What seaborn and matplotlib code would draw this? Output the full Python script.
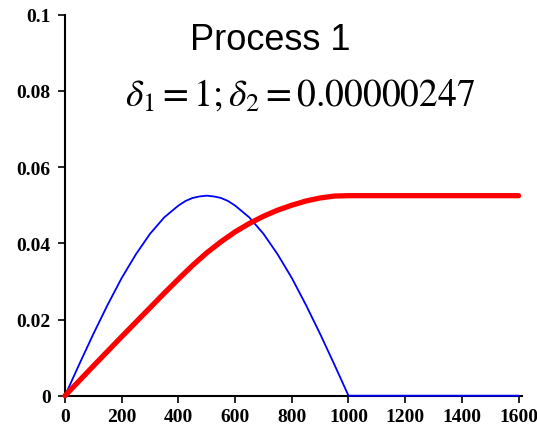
import pandas as pd
import matplotlib.pyplot as plt
import seaborn as sns

sns.set_style("ticks")
plt.rcParams['font.family'] = ['Liberation Serif', 'DejaVu Serif']
plt.rcParams['mathtext.fontset'] = 'stix'

# blue curve
x_blue = [0, 50, 100, 150, 200, 250, 300, 350, 400, 425, 450, 475, 500,
          525, 550, 575, 600, 650, 700, 750, 800, 850, 900, 950, 1000, 1200, 1400, 1600]
y_blue = [0, 0.0082, 0.0162, 0.0238, 0.0309, 0.0371, 0.0425, 0.0468, 0.0499, 0.0511, 0.0519, 0.0523, 0.0525,
          0.0523, 0.0519, 0.0511, 0.0499, 0.0468, 0.0425, 0.0371, 0.0309, 0.0238, 0.0162, 0.0082, 0, 0, 0, 0]

# red curve
x_red = [0, 100, 200, 300, 350, 400, 450, 500, 550, 600, 650, 700, 750, 800, 850, 900, 950,
         1000, 1200, 1400, 1600]
y_red = [0, 0.0078, 0.0155, 0.0231, 0.0269, 0.0306, 0.0342, 0.0375, 0.0404, 0.0430, 0.0452,
         0.0471, 0.0487, 0.0500, 0.0511, 0.0519, 0.0524, 0.0525, 0.0525, 0.0525, 0.0525]

x_ticks = [0, 200, 400, 600, 800, 1000, 1200, 1400, 1600]
y_ticks = [0, 0.02, 0.04, 0.06, 0.08, 0.1]
y_tick_labels = ["0", "0.02", "0.04", "0.06", "0.08", "0.1"]

W, H = 537, 435
fig = plt.figure(figsize=(W / 100, H / 100), dpi=100)
ax = fig.add_axes([65 / W, 38.3 / H, 457 / W, 381 / H])

df_red = pd.DataFrame({"x": x_red, "y": y_red})
df_blue = pd.DataFrame({"x": x_blue, "y": y_blue})
sns.lineplot(data=df_blue, x="x", y="y", ax=ax, color="#0000ff", linewidth=1.3,
             clip_on=False, zorder=3)
sns.lineplot(data=df_red, x="x", y="y", ax=ax, color="#ff0000", linewidth=3.8,
             clip_on=False, zorder=4, solid_capstyle="round")

ax.set_xlim(0, 1612)
ax.set_ylim(0, 0.1)
ax.set_xticks(x_ticks)
ax.set_yticks(y_ticks)
ax.set_yticklabels(y_tick_labels)
ax.set_xlabel("")
ax.set_ylabel("")
for lab in ax.get_xticklabels() + ax.get_yticklabels():
    lab.set_fontweight("bold")
    lab.set_fontsize(14)
ax.tick_params(direction="out", length=4.7, width=1.2, colors="black", labelcolor="black")
ax.tick_params(axis="x", pad=4)
ax.tick_params(axis="y", pad=5.5)
sns.despine(ax=ax)
for s in ["left", "bottom"]:
    ax.spines[s].set_linewidth(1.5)
    ax.spines[s].set_color("black")

fig.text(270 / W, 1 - 40 / H, "Process 1", ha="center", va="center", color="black",
         fontsize=26, family=["Liberation Sans", "DejaVu Sans"])
fig.text(300 / W, 1 - 96 / H, r"$\delta_1=1;\delta_2=0.00000247$", ha="center", va="center",
         color="black", fontsize=27)

fig.savefig("out.png", dpi=100)
